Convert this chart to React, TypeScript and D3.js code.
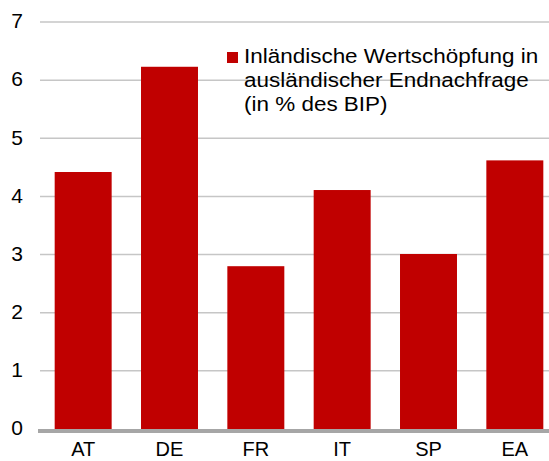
import React, { useRef, useEffect } from 'react';
import * as d3 from 'd3';

const categories = ['AT', 'DE', 'FR', 'IT', 'SP', 'EA'];
const values = [4.42, 6.23, 2.8, 4.11, 3.01, 4.62];
const yTicks = [0, 1, 2, 3, 4, 5, 6, 7];
const legendLines = [
  'Inländische Wertschöpfung in',
  'ausländischer Endnachfrage',
  '(in % des BIP)',
];

const App = () => {
  const ref = useRef<SVGSVGElement>(null);

  useEffect(() => {
    const width = 549;
    const font = 'Liberation Sans, Arial, sans-serif';

    const svg = d3.select(ref.current);
    svg.selectAll('*').remove();

    const x = d3.scaleBand<string>()
      .domain(categories)
      .range([40, 558])
      .paddingInner(0.34)
      .paddingOuter(0.17);
    const y = d3.scaleLinear().domain([0, 7]).range([429, 22]);

    // grid
    svg.append('g')
      .selectAll('line')
      .data(yTicks.filter(d => d > 0))
      .join('line')
        .attr('x1', 40)
        .attr('x2', width)
        .attr('y1', d => y(d))
        .attr('y2', d => y(d))
        .attr('stroke', '#c6c6c6')
        .attr('stroke-width', 1.5);

    // y labels
    svg.append('g')
      .selectAll('text')
      .data(yTicks)
      .join('text')
        .attr('x', 23)
        .attr('y', d => y(d) - 1)
        .attr('dy', '0.35em')
        .attr('text-anchor', 'end')
        .attr('font-family', font)
        .attr('font-size', 21)
        .attr('fill', '#000')
        .text(d => d);

    // bars
    svg.append('g')
      .selectAll('rect')
      .data(values)
      .join('rect')
        .attr('x', (d, i) => x(categories[i])!)
        .attr('width', x.bandwidth())
        .attr('y', d => y(d))
        .attr('height', d => y(0) - y(d))
        .attr('fill', '#c00000');

    // axis line
    svg.append('line')
      .attr('x1', 38)
      .attr('x2', width)
      .attr('y1', y(0) + 2)
      .attr('y2', y(0) + 2)
      .attr('stroke', '#a6a6a6')
      .attr('stroke-width', 4);

    // x labels
    svg.append('g')
      .selectAll('text')
      .data(categories)
      .join('text')
        .attr('x', d => x(d)! + x.bandwidth() / 2)
        .attr('y', 456)
        .attr('text-anchor', 'middle')
        .attr('font-family', font)
        .attr('font-size', 20)
        .attr('fill', '#000')
        .text(d => d);

    // legend
    const legend = svg.append('g');
    legend.append('rect')
      .attr('x', 227)
      .attr('y', 52)
      .attr('width', 11)
      .attr('height', 11)
      .attr('fill', '#c00000');
    legend.append('g')
      .attr('transform', 'translate(244,0) scale(1.07,1)')
      .selectAll('text')
      .data(legendLines)
      .join('text')
        .attr('x', 0)
        .attr('y', (d, i) => 63 + i * 24)
        .attr('font-family', font)
        .attr('font-size', 21)
        .attr('fill', '#000')
        .text(d => d);
  }, []);

  return (
    <svg
      ref={ref}
      width={549}
      height={461}
      style={{ position: 'absolute', left: 0, top: 0, background: '#fff' }}
    />
  );
};

export default App;
